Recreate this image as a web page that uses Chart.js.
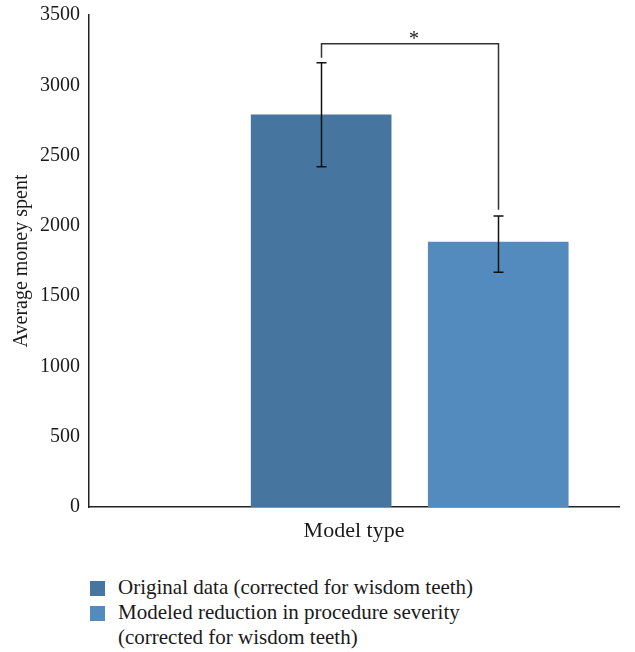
<!DOCTYPE html>
<html>
<head>
<meta charset="utf-8">
<script src="https://cdn.jsdelivr.net/npm/chart.js@4"></script>
<style>
    body { margin: 0; background: #fff; font-family: "Liberation Serif", serif; color: #1a1a1a; }
    #wrap { position: relative; width: 635px; height: 652px; }
    #chartBox { position: absolute; left: 0; top: 0; width: 635px; height: 560px; }
    #legend { position: absolute; left: 90px; top: 575px; font-size: 21px; line-height: 25px; }
    .legendRow { display: flex; align-items: flex-start; }
    .legendBox { width: 15px; height: 15px; margin-top: 6px; margin-right: 13px; flex: none; }
    .legendText { width: 400px; }
</style>
</head>
<body>
<div id="wrap">
    <div id="chartBox"><canvas id="moneyChart"></canvas></div>
    <div id="legend"></div>
</div>
<script>
let categories = ['Original data (corrected for wisdom teeth)', 'Modeled reduction in procedure severity (corrected for wisdom teeth)'];
let means = [2790, 1885];
let errLow = [2420, 1670];
let errHigh = [3160, 2070];
let barColors = ['#4676a0', '#538bbe'];
let yTicks = [0, 500, 1000, 1500, 2000, 2500, 3000, 3500];
let bracketLevel = 3295;
let bracketDrops = [3195, 2115];
let bracketLabel = '*';

(function () {
    drawChart();
    drawLegend();
})
();

function drawChart() {
    let datasets = [];
    for (let index = 0; index < categories.length; index++) {
        datasets.push({
            label: categories[index],
            data: [{ x: index + 1, y: means[index] }],
            backgroundColor: barColors[index],
            barThickness: 140,
            grouped: false
        });
    }

    // error bars and the significance bracket
    let annotations = {
        id: 'annotations',
        afterDatasetsDraw: function (chart) {
            let ctx = chart.ctx;
            let yScale = chart.scales.y;
            let xs = [];
            ctx.save();
            ctx.strokeStyle = '#111';
            ctx.lineWidth = 1.5;
            for (let index = 0; index < categories.length; index++) {
                let bar = chart.getDatasetMeta(index).data[0];
                let x = Math.round(bar.x) + 0.5;
                xs.push(x);
                let top = yScale.getPixelForValue(errHigh[index]);
                let bottom = yScale.getPixelForValue(errLow[index]);
                ctx.beginPath();
                ctx.moveTo(x, top);
                ctx.lineTo(x, bottom);
                ctx.moveTo(x - 5, top);
                ctx.lineTo(x + 5, top);
                ctx.moveTo(x - 5, bottom);
                ctx.lineTo(x + 5, bottom);
                ctx.stroke();
            }
            let level = yScale.getPixelForValue(bracketLevel);
            ctx.strokeStyle = '#333';
            ctx.beginPath();
            ctx.moveTo(xs[0], yScale.getPixelForValue(bracketDrops[0]));
            ctx.lineTo(xs[0], level);
            ctx.lineTo(xs[1], level);
            ctx.lineTo(xs[1], yScale.getPixelForValue(bracketDrops[1]));
            ctx.stroke();
            ctx.fillStyle = '#1a1a1a';
            ctx.font = '20px "Liberation Serif"';
            ctx.textAlign = 'center';
            ctx.textBaseline = 'alphabetic';
            ctx.fillText(bracketLabel, (xs[0] + xs[1]) / 2 + 4, level + 1);
            ctx.restore();
        }
    };

    let ctx = document.getElementById('moneyChart').getContext('2d');
    let moneyChart = new Chart(ctx, {
        type: 'bar',
        data: { datasets: datasets },
        options: {
            responsive: true,
            maintainAspectRatio: false,
            animation: false,
            layout: { padding: { left: 0, right: 16, top: 15, bottom: 0 } },
            plugins: { legend: { display: false }, tooltip: { enabled: false } },
            scales: {
                x: {
                    type: 'linear',
                    min: -0.311,
                    max: 2.682,
                    offset: false,
                    grid: { display: false, offset: false, drawTicks: false },
                    ticks: { display: false },
                    border: { color: '#222', width: 1.5 },
                    title: {
                        display: true,
                        text: 'Model type',
                        color: '#1a1a1a',
                        font: { family: 'Liberation Serif', size: 22 },
                        padding: { top: 11, bottom: 16 }
                    },
                    afterFit: function (scale) { scale.height = 53; }
                },
                y: {
                    min: 0,
                    max: 3500,
                    afterBuildTicks: function (scale) {
                        scale.ticks = yTicks.map(function (v) { return { value: v }; });
                    },
                    grid: { display: false, drawTicks: false },
                    ticks: {
                        color: '#1a1a1a',
                        padding: 9,
                        font: { family: 'Liberation Serif', size: 20 },
                        callback: function (value) { return String(value); }
                    },
                    border: { color: '#222', width: 1.5 },
                    title: {
                        display: true,
                        text: 'Average money spent',
                        color: '#1a1a1a',
                        font: { family: 'Liberation Serif', size: 20 },
                        padding: { top: 10, bottom: 0 }
                    },
                    afterFit: function (scale) {
                        scale.width = 89;
                        scale.paddingTop = 0;
                        scale.paddingBottom = 0;
                    }
                }
            }
        },
        plugins: [annotations]
    });
}

function drawLegend() {
    let html = '';
    for (let index = 0; index < categories.length; index++) {
        html += '<div class="legendRow"><span class="legendBox" style="background:' + barColors[index] + '"></span>' +
            '<span class="legendText">' + categories[index] + '</span></div>';
    }
    document.getElementById('legend').innerHTML = html;
}
</script>
</body>
</html>
